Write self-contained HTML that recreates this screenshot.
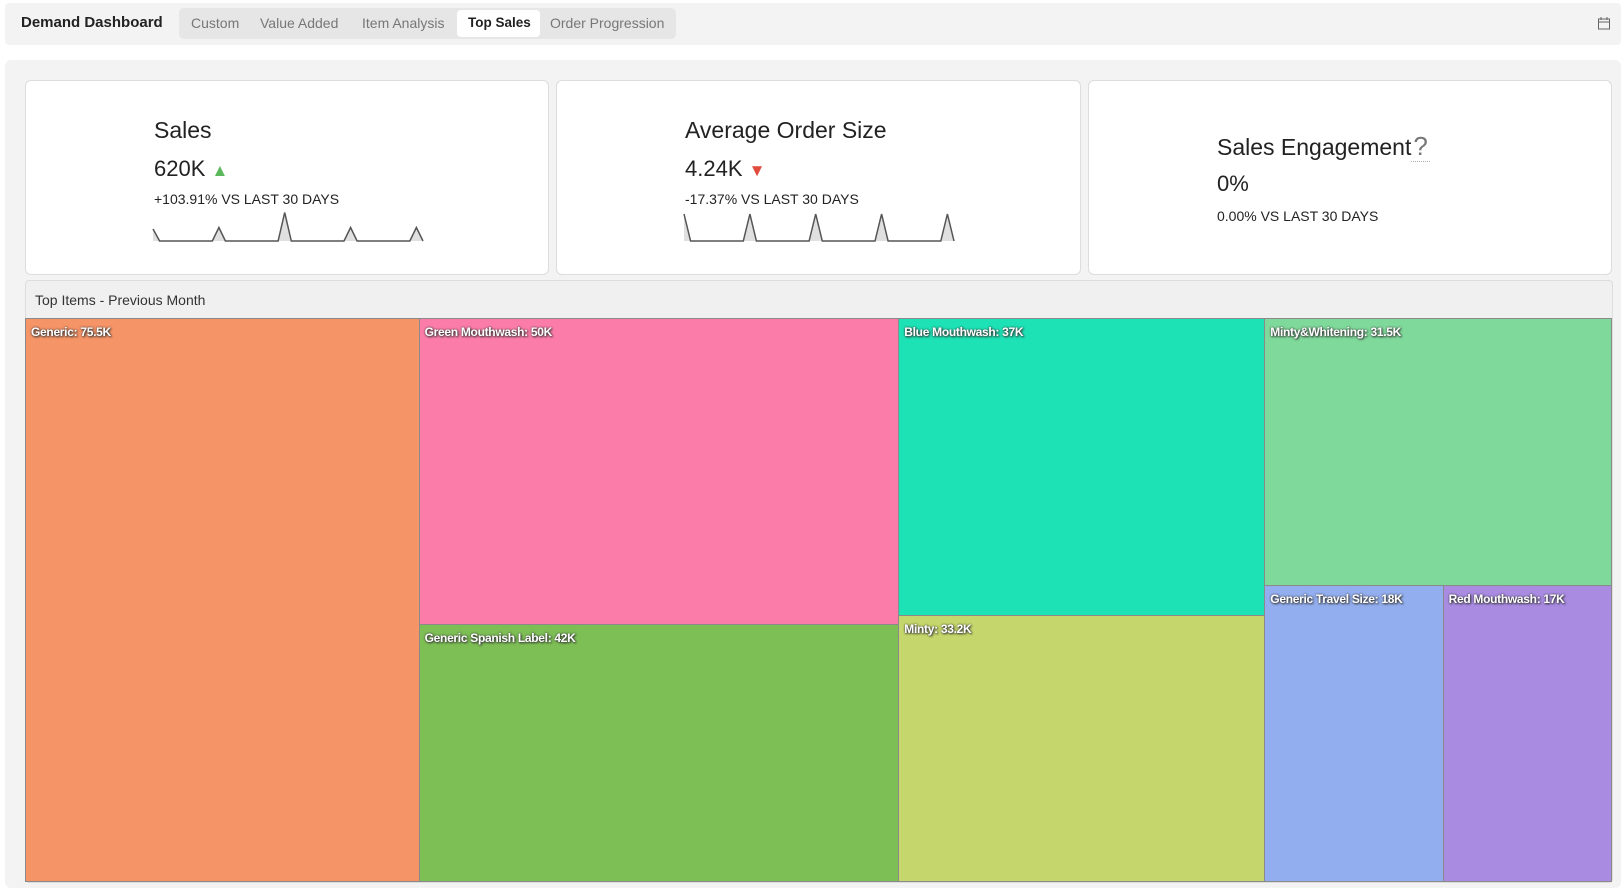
<!DOCTYPE html>
<html><head><meta charset="utf-8">
<style>
body{margin:0;width:1621px;height:888px;background:#fff;font-family:"Liberation Sans",sans-serif;position:relative;overflow:hidden;color:#222}
.abs{position:absolute}
#hdr{left:5px;top:3px;width:1616px;height:42px;background:#f3f3f3;border-radius:4px}
#title{left:21px;top:14px;font-weight:bold;font-size:15px;color:#222}
#tabs{left:179px;top:8px;width:497px;height:31px;background:#e6e6e6;border-radius:5px}
.tab{position:absolute;top:7px;font-size:14px;color:#777}
#tab-active{left:278px;top:2px;width:83px;height:27px;background:#fff;border-radius:4px}
#main{left:5px;top:60px;width:1616px;height:828px;background:#f3f3f3;border-radius:6px}
.card{position:absolute;top:80px;height:193px;background:#fff;border:1px solid #ddd;border-radius:6px}
.ct{position:absolute;font-size:23px;color:#222}
.cv{position:absolute;font-size:22px;color:#222}
.cs{position:absolute;font-size:14px;color:#222}
#tm-panel{left:25px;top:280px;width:1586px;height:601px;background:#f0f0f0;border:1px solid #ddd;border-radius:4px}
#tm-title{left:35px;top:292px;font-size:14px;color:#333}
.cell{position:absolute;box-sizing:border-box;border:1px solid #8a8a8a}
.lbl{position:absolute;left:5px;top:6px;font-size:12px;font-weight:bold;color:#fff;text-shadow:0 0 2px #333,1px 1px 2px #333;white-space:nowrap;letter-spacing:-0.3px}
</style></head><body>
<div id="hdr" class="abs"></div>
<div id="title" class="abs">Demand Dashboard</div>
<div id="tabs" class="abs">
<div id="tab-active" class="abs"></div>
<span class="tab" style="left:12px">Custom</span>
<span class="tab" style="left:81px">Value Added</span>
<span class="tab" style="left:183px">Item Analysis</span>
<span class="tab" style="left:289px;color:#222;font-weight:bold;font-size:13.5px">Top Sales</span>
<span class="tab" style="left:371px">Order Progression</span>
</div>
<svg class="abs" style="left:1597px;top:16px" width="14" height="14"><rect x="1.5" y="3" width="11" height="10" fill="none" stroke="#666"/><line x1="1.5" y1="6" x2="12.5" y2="6" stroke="#666"/><line x1="4" y1="1" x2="4" y2="4" stroke="#666"/><line x1="10" y1="1" x2="10" y2="4" stroke="#666"/></svg>
<div id="main" class="abs"></div>

<div class="card" style="left:25px;width:522px">
<div class="ct" style="left:128px;top:36px">Sales</div>
<div class="cv" style="left:128px;top:75px">620K <span style="color:#5cb85c;font-size:17px">▲</span></div>
<div class="cs" style="left:128px;top:110px">+103.91% VS LAST 30 DAYS</div>
<svg id="spark1" class="abs" style="left:126px;top:130px" width="272" height="32"></svg>
</div>
<div class="card" style="left:556px;width:523px">
<div class="ct" style="left:128px;top:36px">Average Order Size</div>
<div class="cv" style="left:128px;top:75px">4.24K <span style="color:#e04b3c;font-size:17px">▼</span></div>
<div class="cs" style="left:128px;top:110px">-17.37% VS LAST 30 DAYS</div>
<svg id="spark2" class="abs" style="left:126px;top:130px" width="272" height="32"></svg>
</div>
<div class="card" style="left:1088px;width:522px">
<div class="ct" style="left:128px;top:50px">Sales Engagement<span style="color:#777;font-size:26px;border-bottom:1px dotted #aaa;padding:0 2px">?</span></div>
<div class="cv" style="left:128px;top:90px">0%</div>
<div class="cs" style="left:128px;top:127px">0.00% VS LAST 30 DAYS</div>
</div>

<div id="tm-panel" class="abs"></div>
<div id="tm-title" class="abs">Top Items - Previous Month</div>
<div id="tm" class="abs" style="left:25px;top:318px;width:1586px;height:563px"></div>

<script>
const sparkSales=[0.4,0,0,0,0,0,0,0,0,0,0.45,0,0,0,0,0,0,0,0,0,0.95,0,0,0,0,0,0,0,0,0,0.45,0,0,0,0,0,0,0,0,0,0.45,0];
const sparkAvg=[0.9,0,0,0,0,0,0,0,0,0,0.9,0,0,0,0,0,0,0,0,0,0.9,0,0,0,0,0,0,0,0,0,0.9,0,0,0,0,0,0,0,0,0,0.9,0];
function spark(id,vals){
  const svg=document.getElementById(id),W=270,H=30,n=vals.length;
  const x=i=>1+i*W/(n-1), y=v=>H-v*H;
  let d=vals.map((v,i)=>(i?'L':'M')+x(i).toFixed(1)+','+y(v).toFixed(1)).join('');
  const a=document.createElementNS('http://www.w3.org/2000/svg','path');
  a.setAttribute('d',d+'L'+x(n-1)+','+H+'L'+x(0)+','+H+'Z');a.setAttribute('fill','#e0e0e0');
  
  
  svg.appendChild(a);
  const l=document.createElementNS('http://www.w3.org/2000/svg','path');
  l.setAttribute('d',d);l.setAttribute('fill','none');l.setAttribute('stroke','#555');l.setAttribute('stroke-width','1.5');
  
  
  svg.appendChild(l);
}
spark('spark1',sparkSales);spark('spark2',sparkAvg);

const itemNames=['Generic','Green Mouthwash','Generic Spanish Label','Blue Mouthwash','Minty','Minty&Whitening','Generic Travel Size','Red Mouthwash'];
const itemValues=[75.5,50,42,37,33.2,31.5,18,17];
const itemLabels=['75.5K','50K','42K','37K','33.2K','31.5K','18K','17K'];
const itemColors=['#F59467','#FB7CA8','#7DBE55','#1DE2B5','#C5D76C','#7FD99A','#93AEEE','#A98BE2'];
const tm=document.getElementById('tm'),TW=1586,TH=563;
const total=itemValues.reduce((a,b)=>a+b,0);
function cell(i,x,y,w,h){
  const c=document.createElement('div');c.className='cell';
  c.style.cssText=`left:${x}px;top:${y}px;width:${w+1}px;height:${h+1}px;background:${itemColors[i]}`;
  
  
  const l=document.createElement('div');l.className='lbl';l.textContent=itemNames[i]+': '+itemLabels[i];
  
  
  c.appendChild(l);tm.appendChild(c);
}
const groups=[[0],[1,2],[3,4],[5,6,7]];
let cx=0;
groups.forEach(g=>{
  const gs=g.reduce((a,i)=>a+itemValues[i],0);
  const w=gs/total*TW;
  if(g.length===1){cell(g[0],cx,0,w,TH);}
  else if(g.length===2){
    const h=itemValues[g[0]]/gs*TH;cell(g[0],cx,0,w,h);cell(g[1],cx,h,w,TH-h);
  } else {
    const h=itemValues[g[0]]/gs*TH;cell(g[0],cx,0,w,h);
    const bs=itemValues[g[1]]+itemValues[g[2]];const w1=itemValues[g[1]]/bs*w;
    cell(g[1],cx,h,w1,TH-h);cell(g[2],cx+w1,h,w-w1,TH-h);
  }
  cx+=w;
});
</script>
</body></html>
